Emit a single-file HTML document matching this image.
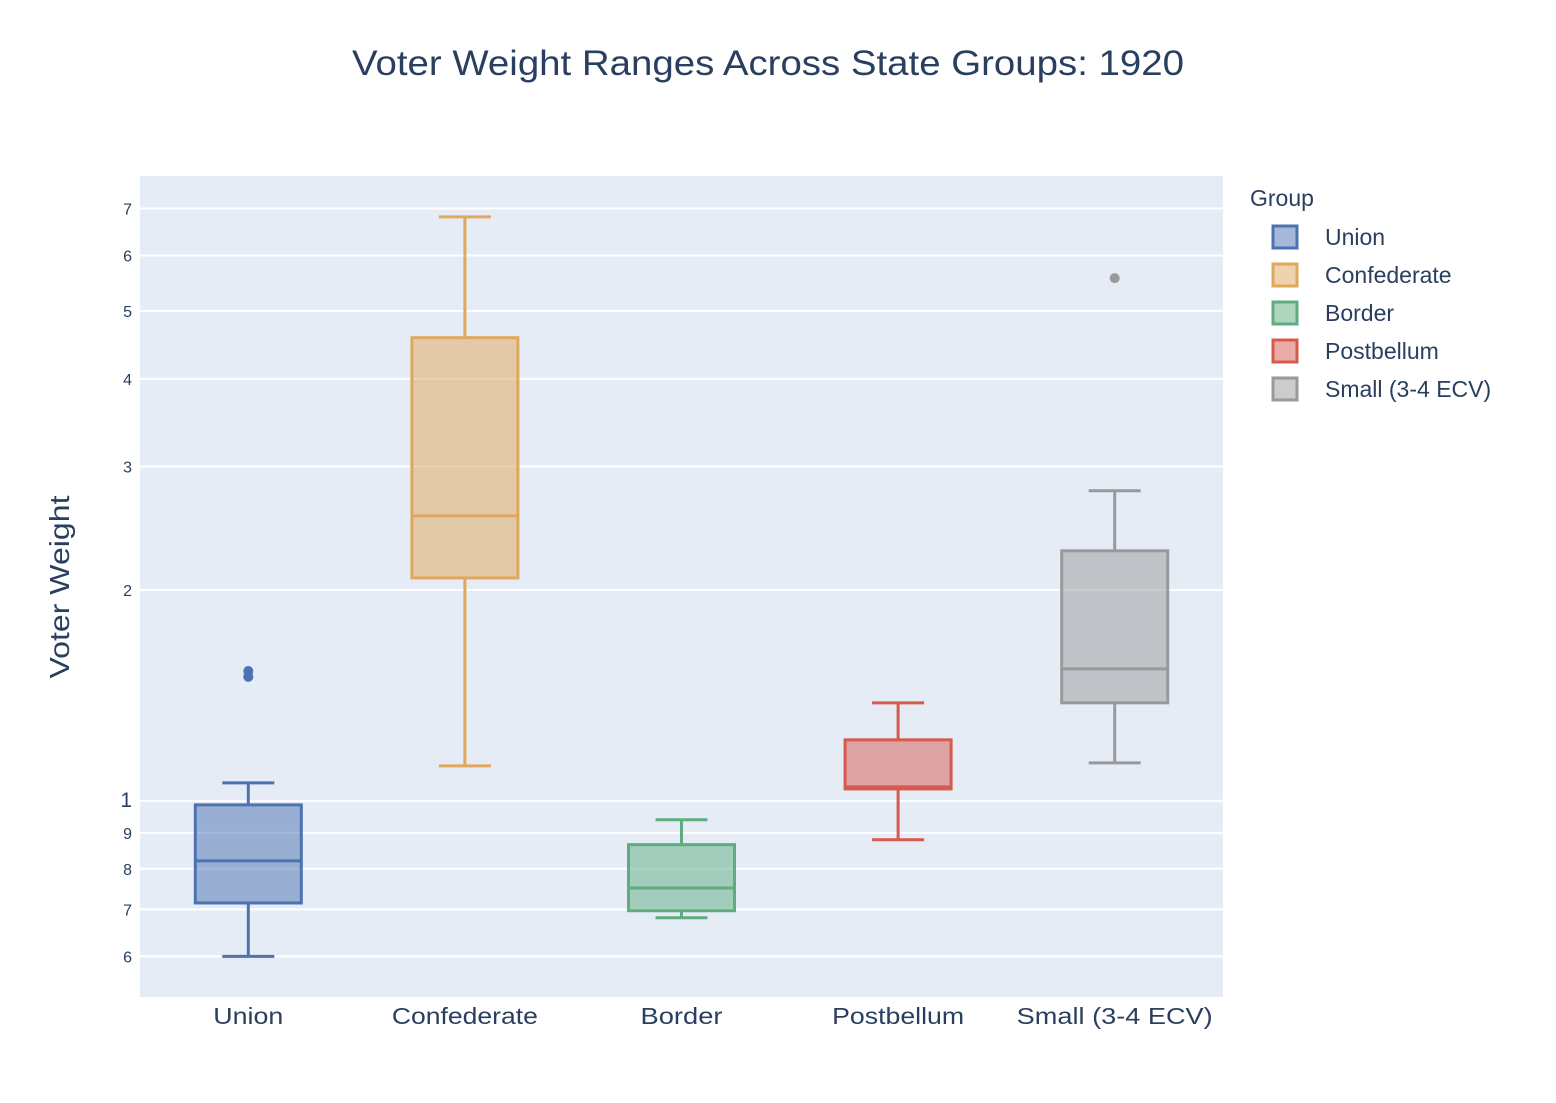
<!DOCTYPE html>
<html><head><meta charset="utf-8"><style>
body{margin:0;background:#fff;font-family:"Liberation Sans",sans-serif}
</style></head><body>
<svg id="chart" width="1556" height="1098" xmlns="http://www.w3.org/2000/svg" font-family="Liberation Sans, sans-serif">
<rect x="140" y="176" width="1083" height="821" fill="#e5ecf6"/>
<g id="grid"></g>
<g id="boxes"></g>
<text x="352" y="75" font-size="35" fill="#2a3f5f" textLength="832" lengthAdjust="spacingAndGlyphs">Voter Weight Ranges Across State Groups: 1920</text>
<text transform="translate(69,587) rotate(-90)" text-anchor="middle" font-size="28" fill="#2a3f5f" textLength="183" lengthAdjust="spacingAndGlyphs">Voter Weight</text>
<g id="legend"></g>
</svg>
<script>
const categories=["Union","Confederate","Border","Postbellum","Small (3-4 ECV)"];
const colors=["#4c72b0","#e0a85c","#5fac80","#d65a4e","#999999"];
const lows=[0.6,1.122,0.681,0.880,1.133];
const q1s=[0.715,2.08,0.697,1.040,1.380];
const medians=[0.821,2.55,0.751,1.047,1.543];
const q3s=[0.987,4.58,0.866,1.222,2.274];
const highs=[1.061,6.81,0.940,1.380,2.77];
const outliers=[[1.532,1.503],[],[],[],[5.57]];
const tickVals=[0.6,0.7,0.8,0.9,1,2,3,4,5,6,7];
const tickLabels=["6","7","8","9","1","2","3","4","5","6","7"];
const xLabelWidths=[70,146,82,132,196];
const NS="http://www.w3.org/2000/svg";
const X0=140,W=1083,Y0=176,H=821,LMIN=Math.log10(0.525),LMAX=Math.log10(7.79);
const y=v=>Y0+H-(Math.log10(v)-LMIN)/(LMAX-LMIN)*H;
const bw=W/categories.length;
const xc=i=>X0+bw*(i+0.5);
function el(t,a,p){const e=document.createElementNS(NS,t);for(const k in a)e.setAttribute(k,a[k]);p.appendChild(e);return e;}
const grid=document.getElementById('grid');
tickVals.forEach((v,i)=>{
 const l=el('line',{x1:X0,x2:X0+W,y1:y(v),y2:y(v),stroke:'#fff','stroke-width':2},grid);
 
 
 const t=el('text',{x:132,y:y(v)+6,'text-anchor':'end','font-size':v===1?21:16,fill:'#2a3f5f'},grid);
 t.textContent=tickLabels[i];
 
 
});
const boxes=document.getElementById('boxes');
categories.forEach((c,i)=>{
 const g=el('g',{},boxes);
 
 
 const cx=xc(i),hw=53,col=colors[i];
 el('line',{x1:cx,x2:cx,y1:y(lows[i]),y2:y(q1s[i]),stroke:col,'stroke-width':3},g);
 el('line',{x1:cx,x2:cx,y1:y(q3s[i]),y2:y(highs[i]),stroke:col,'stroke-width':3},g);
 el('line',{x1:cx-26,x2:cx+26,y1:y(lows[i]),y2:y(lows[i]),stroke:col,'stroke-width':3},g);
 el('line',{x1:cx-26,x2:cx+26,y1:y(highs[i]),y2:y(highs[i]),stroke:col,'stroke-width':3},g);
 el('rect',{x:cx-hw,y:y(q3s[i]),width:hw*2,height:y(q1s[i])-y(q3s[i]),fill:col,'fill-opacity':0.5,stroke:col,'stroke-width':3},g);
 el('line',{x1:cx-hw,x2:cx+hw,y1:y(medians[i]),y2:y(medians[i]),stroke:col,'stroke-width':3},g);
 outliers[i].forEach(v=>{const o=el('circle',{cx:cx,cy:y(v),r:5,fill:col},g);
  
  });
 const t=el('text',{x:cx-xLabelWidths[i]/2,y:1024,'font-size':23,fill:'#2a3f5f',textLength:xLabelWidths[i],lengthAdjust:'spacingAndGlyphs'},boxes);
 t.textContent=c;
 
 
});
const lg=document.getElementById('legend');
const lt=el('text',{x:1250,y:206,'font-size':23,fill:'#2a3f5f'},lg);
lt.textContent='Group';


categories.forEach((c,i)=>{
 const g=el('g',{},lg);
 
 
 const yy=237+i*38;
 el('rect',{x:1273,y:yy-11,width:24,height:22,fill:colors[i],'fill-opacity':0.5,stroke:colors[i],'stroke-width':3},g);
 const t=el('text',{x:1325,y:yy+8,'font-size':23,fill:'#2a3f5f'},g);
 t.textContent=c;
});
</script>
</body></html>
